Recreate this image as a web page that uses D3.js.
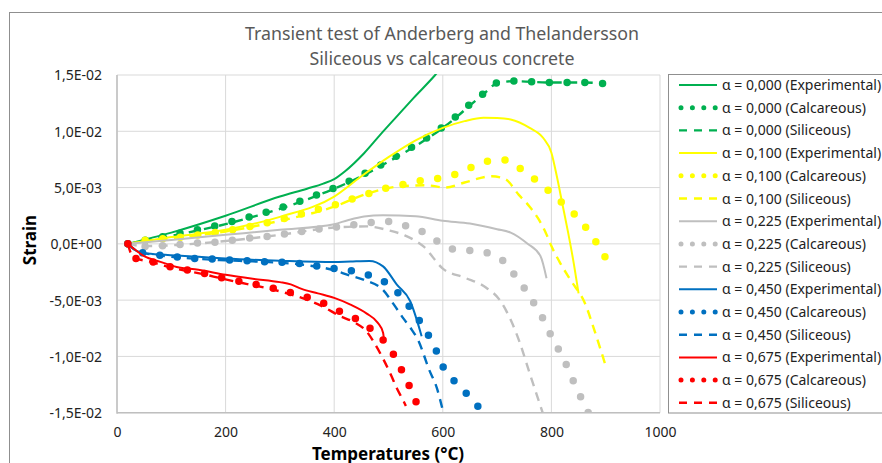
<!DOCTYPE html>
<html><head><meta charset="utf-8">
<script src="https://cdn.jsdelivr.net/npm/d3@7"></script>
<style>
html,body{margin:0;padding:0;background:#fff;overflow:hidden}
svg{display:block}
</style></head><body>
<svg id="c" width="882" height="463"></svg>
<script>
// ---------- DATA (temperature °C, strain ×1e-3) ----------
const xTicks = [0, 200, 400, 600, 800, 1000];
const yTicks = [0.015, 0.01, 0.005, 0, -0.005, -0.01, -0.015];
const yTickLabels = ["1,5E-02", "1,0E-02", "5,0E-03", "0,0E+00", "-5,0E-03", "-1,0E-02", "-1,5E-02"];

const a000_exp = [[20,0],[100,1.0],[200,2.5],[300,4.2],[350,4.9],[380,5.35],[400,5.75],[420,6.45],[455,8.05],[485,9.7],[515,11.3],[546,12.95],[586,15.0],[600,15.8]];
const a000_cal = [[20,0],[50,0.3],[100,0.78],[150,1.27],[200,1.83],[250,2.48],[300,3.18],[350,4.03],[400,4.97],[450,6.1],[500,7.4],[550,8.8],[600,10.4],[625,11.35],[650,12.4],[675,13.35],[700,14.3],[730,14.47],[800,14.33],[860,14.33],[895,14.24]];
const a000_sil = [[20,0],[50,0.25],[100,0.7],[150,1.2],[200,1.75],[250,2.4],[300,3.1],[350,3.95],[400,4.9],[450,6.0],[500,7.3],[550,8.7],[600,10.3],[625,11.25],[650,12.3],[675,13.3],[700,14.27],[730,14.45],[800,14.33],[860,14.33],[895,14.24]];

const a100_exp = [[20,0],[100,0.6],[200,1.25],[300,2.4],[400,4.2],[450,6.0],[500,7.7],[550,9.2],[600,10.3],[640,10.9],[675,11.2],[700,11.18],[725,11.05],[760,10.3],[785,9.4],[800,8.1],[810,6.0],[820,3.6],[830,1.2],[840,-1.4],[850,-4.4]];
const a100_cal = [[20,0],[50,0.3],[100,0.5],[150,0.8],[200,1.15],[250,1.6],[300,2.15],[350,2.8],[400,3.45],[450,4.25],[500,5.0],[530,5.3],[560,5.62],[590,5.8],[620,6.13],[650,6.75],[685,7.37],[713,7.46],[742,6.7],[768,5.8],[793,4.8],[818,3.73],[842,2.66],[863,1.48],[882,0.18],[899,-1.18]];
const a100_sil = [[20,0],[100,0.48],[200,1.1],[300,2.05],[400,3.3],[460,4.45],[520,5.1],[570,5.2],[605,5.0],[640,5.45],[690,6.0],[715,5.75],[740,4.35],[760,3.3],[775,2.3],[790,0.95],[800,-0.2],[815,-1.6],[835,-3.2],[862,-5.3],[880,-7.8],[901,-11.0]];

const a225_exp = [[20,0],[100,0.35],[200,0.8],[300,1.25],[400,1.75],[425,2.1],[455,2.43],[490,2.55],[550,2.45],[600,2.05],[650,1.8],[700,1.3],[725,1.0],[755,0.05],[780,-1.1],[791,-3.05]];
const a225_cal = [[20,0],[48,-0.24],[80,-0.18],[110,-0.09],[145,0.06],[177,0.12],[208,0.3],[242,0.5],[274,0.65],[306,0.86],[338,1.09],[370,1.3],[402,1.48],[435,1.69],[468,1.9],[500,1.98],[532,1.6],[564,1.04],[591,0.2],[618,-0.45],[650,-0.6],[684,-0.83],[711,-1.5],[732,-2.75],[751,-4.0],[769,-5.36],[785,-6.69],[799,-8.1],[815,-9.56],[829,-10.9],[842,-12.37],[856,-13.8],[868,-15.0]];
const a225_sil = [[20,0],[50,-0.2],[110,-0.1],[200,0.25],[300,0.8],[400,1.45],[460,1.55],[500,1.2],[530,0.75],[565,-0.25],[600,-2.2],[640,-3.0],[680,-3.9],[705,-5.0],[725,-6.75],[742,-8.8],[760,-11.5],[784,-15.0]];

const a450_exp = [[20,0],[30,-0.45],[45,-0.8],[80,-0.95],[150,-1.15],[200,-1.3],[300,-1.5],[400,-1.62],[430,-1.57],[465,-1.52],[490,-2.0],[515,-3.6],[540,-5.1],[561,-8.2]];
const a450_cal = [[20,0],[40,-0.7],[73,-0.98],[102,-1.12],[134,-1.27],[167,-1.33],[200,-1.42],[233,-1.48],[266,-1.57],[299,-1.63],[331,-1.71],[363,-1.93],[396,-2.16],[429,-2.37],[461,-2.75],[490,-3.29],[516,-4.29],[537,-5.48],[556,-6.75],[573,-8.08],[588,-9.5],[601,-10.98],[621,-12.17],[643,-13.26],[665,-14.45]];
const a450_sil = [[20,0],[40,-0.7],[75,-1.0],[100,-1.14],[150,-1.34],[200,-1.46],[250,-1.56],[300,-1.68],[350,-1.9],[400,-2.35],[425,-2.75],[455,-3.2],[490,-4.1],[510,-5.4],[527,-6.6],[541,-7.5],[555,-8.6],[575,-11.2],[589,-12.8],[601,-15.0]];

const a675_exp = [[20,0],[30,-0.4],[50,-1.1],[80,-1.6],[110,-2.05],[150,-2.3],[200,-2.75],[250,-3.1],[300,-3.4],[320,-3.6],[340,-4.0],[370,-4.4],[400,-4.8],[430,-5.4],[460,-6.2],[480,-7.0],[490,-7.9],[492,-8.7]];
const a675_cal = [[20,0],[30,-1.2],[63,-1.57],[95,-2.0],[127,-2.3],[159,-2.6],[191,-2.99],[222,-3.29],[254,-3.58],[286,-3.93],[317,-4.29],[349,-4.73],[380,-5.27],[408,-5.95],[438,-6.6],[466,-7.5],[490,-8.53],[509,-9.8],[524,-11.2],[538,-12.6],[551,-14.06]];
const a675_sil = [[20,0],[30,-1.2],[63,-1.6],[95,-2.05],[127,-2.4],[160,-2.7],[190,-3.05],[222,-3.4],[254,-3.7],[286,-4.05],[317,-4.45],[349,-4.95],[380,-5.6],[410,-6.4],[438,-7.0],[460,-7.8],[475,-8.9],[490,-10.2],[505,-11.7],[516,-12.9],[527,-13.9],[532,-14.4]];

const alphaLabels = ["0,000", "0,100", "0,225", "0,450", "0,675"];
const alphaColors = ["#00B050", "#FFFF00", "#BFBFBF", "#0070C0", "#FF0000"];
const kindLabels = ["Experimental", "Calcareous", "Siliceous"];
const seriesData = [
  [a000_exp, a000_cal, a000_sil],
  [a100_exp, a100_cal, a100_sil],
  [a225_exp, a225_cal, a225_sil],
  [a450_exp, a450_cal, a450_sil],
  [a675_exp, a675_cal, a675_sil]
];

// ---------- CHART ----------
const svg = d3.select("#c");
const FONT = "'Noto Sans', 'Open Sans', sans-serif";
const P = {l: 117, r: 660, t: 75, b: 412.7};
const x = d3.scaleLinear().domain([0, 1000]).range([P.l, P.r]);
const y = d3.scaleLinear().domain([-0.015, 0.015]).range([P.b, P.t]);

// outer chart border
svg.append("rect").attr("x", 9.5).attr("y", 12.5).attr("width", 900).attr("height", 500)
  .attr("fill", "#fff").attr("stroke", "#8f8f8f").attr("stroke-width", 1);

// gridlines
const g = svg.append("g");
g.selectAll(".hg").data(yTicks).join("line")
  .attr("x1", P.l).attr("x2", P.r).attr("y1", d => y(d)).attr("y2", d => y(d))
  .attr("stroke", "#d9d9d9").attr("stroke-width", 1);
g.selectAll(".vg").data(xTicks).join("line")
  .attr("y1", P.t).attr("y2", P.b).attr("x1", d => x(d)).attr("x2", d => x(d))
  .attr("stroke", "#d9d9d9").attr("stroke-width", 1);

// axes lines
svg.append("line").attr("x1", P.l).attr("x2", P.l).attr("y1", P.t).attr("y2", P.b + 1)
  .attr("stroke", "#bfbfbf").attr("stroke-width", 1.5);
svg.append("line").attr("x1", P.l).attr("x2", P.r).attr("y1", P.b).attr("y2", P.b)
  .attr("stroke", "#bfbfbf").attr("stroke-width", 1.5);

// axis labels via d3 axes
const yAxis = d3.axisLeft(y).tickValues(yTicks).tickSize(0).tickPadding(0)
  .tickFormat((d, i) => yTickLabels[i]);
const ya = svg.append("g").attr("transform", `translate(${P.l - 15},0)`).call(yAxis);
ya.select(".domain").remove();
ya.selectAll("text").attr("font-family", FONT).attr("font-size", 14).attr("fill", "#222").attr("dy", "0.35em");

const xAxis = d3.axisBottom(x).tickValues(xTicks).tickSize(0).tickPadding(0).tickFormat(d3.format("d"));
const xa = svg.append("g").attr("transform", `translate(0,${P.b + 14.5})`).call(xAxis);
xa.select(".domain").remove();
xa.selectAll("text").attr("font-family", FONT).attr("font-size", 14).attr("fill", "#222");

// titles
svg.append("text").attr("x", 442).attr("y", 40).attr("text-anchor", "middle")
  .attr("font-family", FONT).attr("font-size", 17.8).attr("fill", "#595959")
  .text("Transient test of Anderberg and Thelandersson");
svg.append("text").attr("x", 442).attr("y", 64.5).attr("text-anchor", "middle")
  .attr("font-family", FONT).attr("font-size", 17.8).attr("fill", "#595959")
  .text("Siliceous vs calcareous concrete");
svg.append("text").attr("x", 388).attr("y", 459.5).attr("text-anchor", "middle")
  .attr("font-family", FONT).attr("font-size", 17).attr("font-weight", "bold").attr("fill", "#000")
  .text("Temperatures (°C)");
svg.append("text").attr("transform", "translate(36,240) rotate(-90)").attr("text-anchor", "middle")
  .attr("font-family", FONT).attr("font-size", 17).attr("font-weight", "bold").attr("fill", "#000")
  .text("Strain");

// series
svg.append("clipPath").attr("id", "pc").append("rect")
  .attr("x", P.l).attr("y", P.t - 1).attr("width", P.r - P.l).attr("height", P.b - P.t + 1);
const line = d3.line().x(d => x(d[0])).y(d => y(d[1] / 1000)).curve(d3.curveMonotoneX);
const styles = [
  {w: 2, dash: null, cap: "butt"},
  {w: 7.5, dash: "dots", cap: "round"},
  {w: 2.4, dash: "9 6.5", cap: "butt"}
];
const sg = svg.append("g").attr("clip-path", "url(#pc)");
seriesData.forEach((grp, ai) => {
  grp.forEach((data, k) => {
    const s = styles[k];
    const p = sg.append("path").datum(data).attr("d", line)
      .attr("fill", "none").attr("stroke", alphaColors[ai])
      .attr("stroke-width", s.w)
      .attr("stroke-linecap", s.cap).attr("stroke-linejoin", "round");
    if (s.dash === "dots") {
      const L = p.node().getTotalLength();
      const n = Math.max(1, Math.round(L / 17.6));
      p.attr("stroke-dasharray", `0 ${(L - 0.5) / n}`);
    } else if (s.dash) {
      p.attr("stroke-dasharray", s.dash);
    }
  });
});

// legend
svg.append("rect").attr("x", 668.5).attr("y", 74.5).attr("width", 260).attr("height", 338.5)
  .attr("fill", "#fff").attr("stroke", "#8f8f8f").attr("stroke-width", 1);
const legStyles = [
  {w: 2, dash: null, cap: "butt", x1: 679, x2: 717},
  {w: 5, dash: "0 11.4", cap: "round", x1: 681, x2: 716},
  {w: 2.4, dash: "8 7", cap: "butt", x1: 679, x2: 717}
];
let row = 0;
alphaLabels.forEach((al, ai) => {
  kindLabels.forEach((kl, k) => {
    const cy = 85 + row * 22.7;
    const s = legStyles[k];
    svg.append("line").attr("x1", s.x1).attr("x2", s.x2).attr("y1", cy).attr("y2", cy)
      .attr("stroke", alphaColors[ai]).attr("stroke-width", s.w)
      .attr("stroke-dasharray", s.dash).attr("stroke-linecap", s.cap);
    svg.append("text").attr("x", 722).attr("y", cy + 5)
      .attr("font-family", FONT).attr("font-size", 14).attr("fill", "#222")
      .text(`α = ${al} (${kl})`);
    row++;
  });
});
</script>
</body></html>
